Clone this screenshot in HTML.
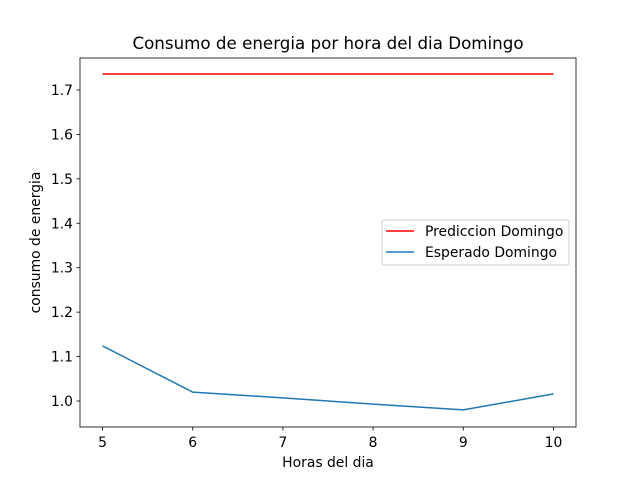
<!DOCTYPE html>
<html><head><meta charset="utf-8"><style>
body{margin:0;background:#fff;}
svg text{font-family:"DejaVu Sans","Liberation Sans",sans-serif;fill:#000;}
</style></head><body>
<svg id="chart" width="640" height="480" xmlns="http://www.w3.org/2000/svg">
<rect width="640" height="480" fill="#fff"/>
<g id="plot"></g>
</svg>
<script>
const hours = [5,6,7,8,9,10];
const prediccion = [1.736,1.736,1.736,1.736,1.736,1.736];
const esperado = [1.124,1.020,1.007,0.993,0.980,1.016];
const xTicks = [5,6,7,8,9,10];
const yTicks = [1.0,1.1,1.2,1.3,1.4,1.5,1.6,1.7];

const L=80,R=576,T=58,B=427;
const xmin=4.75,xmax=10.25,ymin=0.9415,ymax=1.772;
const sx=v=>L+(v-xmin)/(xmax-xmin)*(R-L);
const sy=v=>B-(v-ymin)/(ymax-ymin)*(B-T);
const NS="http://www.w3.org/2000/svg";
const g=document.getElementById('plot');
function mk(tag,attrs,txt){const e=document.createElementNS(NS,tag);for(const k in attrs)e.setAttribute(k,attrs[k]);if(txt!==undefined)e.textContent=txt;g.appendChild(e);return e;}

xTicks.forEach(t=>{
  const l=mk('line',{x1:sx(t),x2:sx(t),y1:B,y2:B+3.5,stroke:'#000','stroke-width':0.8});
  
  
  const tx=mk('text',{x:sx(t),y:B+20,'text-anchor':'middle','font-size':13.9},String(t));
  
  
});
yTicks.forEach(t=>{
  const l=mk('line',{x1:L-3.5,x2:L,y1:sy(t),y2:sy(t),stroke:'#000','stroke-width':0.8});
  
  
  const tx=mk('text',{x:L-7,y:sy(t)+5,'text-anchor':'end','font-size':13.9},t.toFixed(1));
  
  
});

const p1=mk('polyline',{points:hours.map((h,i)=>sx(h)+','+sy(prediccion[i])).join(' '),fill:'none',stroke:'#ff0000','stroke-width':1.5});


const p2=mk('polyline',{points:hours.map((h,i)=>sx(h)+','+sy(esperado[i])).join(' '),fill:'none',stroke:'#1f77b4','stroke-width':1.5});



const fr=mk('rect',{x:L,y:T,width:R-L,height:B-T,fill:'none',stroke:'#000','stroke-width':0.8});



const ti=mk('text',{x:(L+R)/2,y:49,'text-anchor':'middle','font-size':16.7},'Consumo de energia por hora del dia Domingo');


const xl=mk('text',{x:(L+R)/2,y:467,'text-anchor':'middle','font-size':13.9},'Horas del dia');


const yl=mk('text',{x:0,y:0,'text-anchor':'middle','font-size':13.9,transform:'translate(40,'+((T+B)/2)+') rotate(-90)'},'consumo de energia');



const lg=mk('rect',{x:382,y:220,width:187,height:45,rx:2,fill:'#fff','fill-opacity':0.8,stroke:'#ccc','stroke-width':1});


const e1=mk('line',{x1:386,x2:414,y1:231,y2:231,stroke:'#ff0000','stroke-width':1.5});


const t1=mk('text',{x:425,y:236,'font-size':13.9},'Prediccion Domingo');


const e2=mk('line',{x1:386,x2:414,y1:252,y2:252,stroke:'#1f77b4','stroke-width':1.5});


const t2=mk('text',{x:425,y:257,'font-size':13.9},'Esperado Domingo');


</script>
</body></html>
